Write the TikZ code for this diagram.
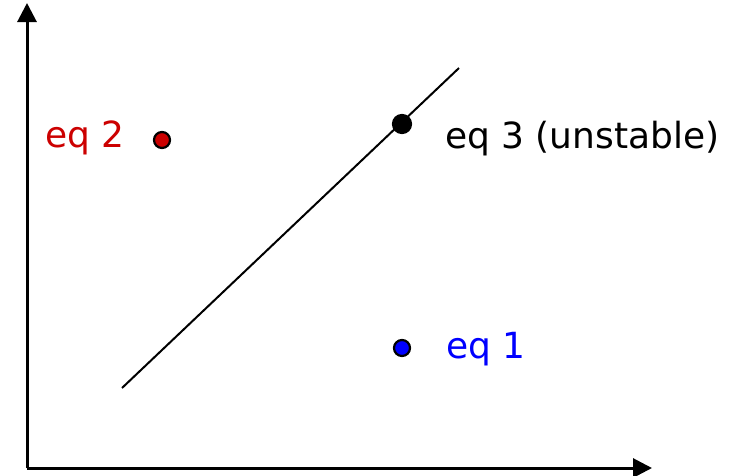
\documentclass[tikz,border=0pt]{standalone}
\usepackage{fontspec}
\setmainfont{DejaVu Sans}
\usetikzlibrary{arrows.meta}
\definecolor{eqred}{RGB}{204,0,0}
\definecolor{eqblue}{RGB}{0,0,255}
\begin{document}
\begin{tikzpicture}[x=1pt,y=-1pt,
  axis/.style={line width=3pt,-{Triangle[length=19pt,width=19pt]}},
  dot/.style={circle,draw=black,line width=2.2pt,inner sep=0pt,minimum size=16pt},
  lbl/.style={anchor=base west,inner sep=0pt,font=\fontsize{36}{42}\selectfont}]
\useasboundingbox (0,0) rectangle (748,475);
\coordinate (o) at (27,468);
\coordinate (ytop) at (27,3);
\coordinate (xend) at (652,468);
\draw[axis] (o) -- (ytop);
\draw[axis] (o) -- (xend);
\coordinate (l1) at (122,388);
\coordinate (l2) at (459,68);
\draw[line width=2pt] (l1) -- (l2);
\node[dot,fill=eqred] (d2) at (162,140) {};
\node[dot,fill=black,minimum size=18pt] (d3) at (402,124) {};
\node[dot,fill=eqblue] (d1) at (402,348) {};
\node[lbl,text=eqred] (t2) at (45,147) {eq 2};
\node[lbl,text=black] (t3) at (445,148) {eq 3 (unstable)};
\node[lbl,text=eqblue] (t1) at (446,358) {eq 1};
\end{tikzpicture}
\end{document}
